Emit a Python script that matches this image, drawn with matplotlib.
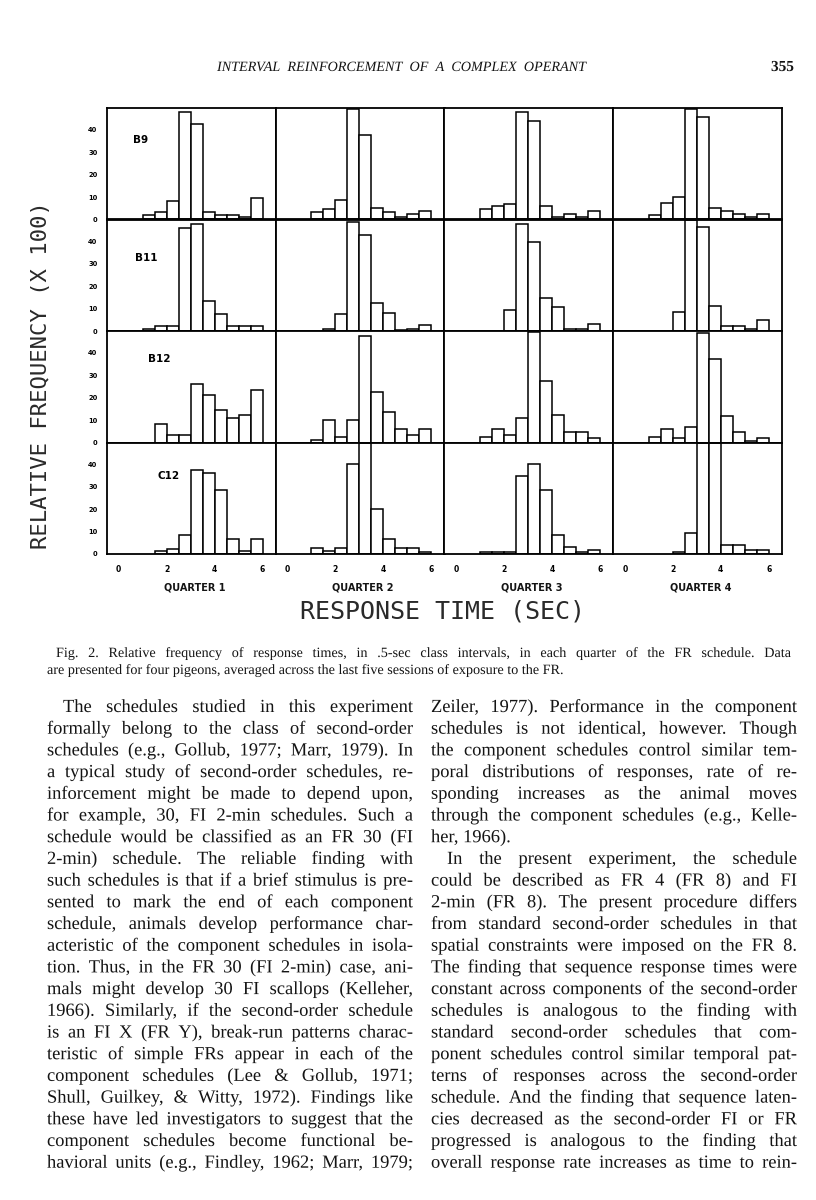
import matplotlib
matplotlib.use('Agg')
import matplotlib.pyplot as plt
import matplotlib.patheffects as pe
from matplotlib.font_manager import FontProperties
from matplotlib.textpath import TextToPath

W, H = 816, 1200

# ---- figure data ----
birds = ['B9', 'B11', 'B12', 'C12']
quarters = ['QUARTER 1', 'QUARTER 2', 'QUARTER 3', 'QUARTER 4']
bin_left = [0.0, 0.5, 1.0, 1.5, 2.0, 2.5, 3.0, 3.5, 4.0, 4.5, 5.0, 5.5]  # .5-sec class intervals
x_ticks = [0, 2, 4, 6]
y_ticks = [0, 10, 20, 30, 40]

# relative frequency (x 100), one list per quarter
b9 = [
    [0, 0, 2.0, 3.2, 8.3, 47.9, 42.7, 3.3, 1.8, 1.8, 0.9, 9.7],
    [0, 0, 3.3, 4.8, 8.5, 49.2, 37.9, 5.0, 3.3, 1.2, 2.3, 3.6],
    [0, 0, 4.7, 5.9, 7.1, 48.0, 44.2, 6.1, 1.2, 2.3, 1.1, 3.6],
    [0, 0, 2.1, 7.3, 10.0, 49.5, 45.9, 5.0, 3.6, 2.3, 1.2, 2.4],
]
b11 = [
    [0, 0, 0.9, 2.3, 2.3, 46.0, 47.6, 13.6, 7.6, 2.3, 2.3, 2.3],
    [0, 0, 0, 1.0, 7.6, 48.6, 43.0, 12.5, 7.9, 0.4, 1.0, 2.5],
    [0, 0, 0, 0, 9.5, 47.6, 39.7, 14.7, 10.9, 1.0, 1.0, 3.3],
    [0, 0, 0, 0, 8.3, 49.4, 46.4, 11.3, 2.3, 2.3, 0.8, 4.8],
]
b12 = [
    [0, 0, 0, 8.4, 3.5, 3.5, 26.0, 21.0, 14.7, 11.0, 12.2, 23.4],
    [0, 0, 0.9, 9.9, 2.4, 9.9, 47.4, 22.5, 13.5, 6.0, 3.3, 6.2],
    [0, 0, 2.3, 6.0, 3.3, 10.8, 49.5, 27.3, 12.3, 4.5, 4.5, 2.1],
    [0, 0, 2.3, 6.0, 2.1, 7.0, 48.8, 37.4, 12.0, 4.5, 0.8, 2.1],
]
c12 = [
    [0, 0, 0, 1.2, 2.3, 8.7, 37.5, 36.1, 28.6, 6.5, 1.5, 6.5],
    [0, 0, 2.6, 1.5, 2.6, 40.2, 49.5, 20.0, 6.5, 2.6, 2.6, 0.9],
    [0, 0, 0.9, 0.9, 0.9, 35.0, 40.0, 28.5, 8.3, 3.2, 0.9, 2.0],
    [0, 0, 0, 0, 0.8, 9.5, 49.5, 49.5, 4.2, 4.2, 1.7, 1.7],
]
freq = {'B9': b9, 'B11': b11, 'B12': b12, 'C12': c12}
# where the bird name sits inside the first panel (data coords)
name_pos = {'B9': (0.9, 35.7), 'B11': (1.17, 32.8), 'B12': (1.7, 37.2), 'C12': (2.08, 35.0)}

header = 'INTERVAL REINFORCEMENT OF A COMPLEX OPERANT'
page_no = '355'
caption = [
    'Fig. 2. Relative frequency of response times, in .5-sec class intervals, in each quarter of the FR schedule. Data',
    'are presented for four pigeons, averaged across the last five sessions of exposure to the FR.',
]
left_col = [
    'The schedules studied in this experiment',
    'formally belong to the class of second-order',
    'schedules (e.g., Gollub, 1977; Marr, 1979). In',
    'a typical study of second-order schedules, re-',
    'inforcement might be made to depend upon,',
    'for example, 30, FI 2-min schedules. Such a',
    'schedule would be classified as an FR 30 (FI',
    '2-min) schedule. The reliable finding with',
    'such schedules is that if a brief stimulus is pre-',
    'sented to mark the end of each component',
    'schedule, animals develop performance char-',
    'acteristic of the component schedules in isola-',
    'tion. Thus, in the FR 30 (FI 2-min) case, ani-',
    'mals might develop 30 FI scallops (Kelleher,',
    '1966). Similarly, if the second-order schedule',
    'is an FI X (FR Y), break-run patterns charac-',
    'teristic of simple FRs appear in each of the',
    'component schedules (Lee & Gollub, 1971;',
    'Shull, Guilkey, & Witty, 1972). Findings like',
    'these have led investigators to suggest that the',
    'component schedules become functional be-',
    'havioral units (e.g., Findley, 1962; Marr, 1979;',
]
right_col = [
    'Zeiler, 1977). Performance in the component',
    'schedules is not identical, however. Though',
    'the component schedules control similar tem-',
    'poral distributions of responses, rate of re-',
    'sponding increases as the animal moves',
    'through the component schedules (e.g., Kelle-',
    'her, 1966).',
    'In the present experiment, the schedule',
    'could be described as FR 4 (FR 8) and FI',
    '2-min (FR 8). The present procedure differs',
    'from standard second-order schedules in that',
    'spatial constraints were imposed on the FR 8.',
    'The finding that sequence response times were',
    'constant across components of the second-order',
    'schedules is analogous to the finding with',
    'standard second-order schedules that com-',
    'ponent schedules control similar temporal pat-',
    'terns of responses across the second-order',
    'schedule. And the finding that sequence laten-',
    'cies decreased as the second-order FI or FR',
    'progressed is analogous to the finding that',
    'overall response rate increases as time to rein-',
]

DPI = 100
fig = plt.figure(figsize=(W / DPI, H / DPI), dpi=DPI)
fig.patch.set_facecolor('white')
ink = '#141414'
as_path = [pe.Normal()]  # drawn as paths -> no per-word pixel snapping of the baseline
t2p = TextToPath()


def fx(px):
    return px / W


def fy(py):
    return 1 - py / H


def word_width(s, prop):
    # width of the outline text in pixels (same metrics the path drawing uses)
    w, _, _ = t2p.get_text_width_height_descent(s, prop, ismath=False)
    return w * DPI / 72


def put_word(s, x, y_base, prop):
    return fig.text(fx(x), fy(y_base), s, fontproperties=prop, va='baseline',
                    color=ink, path_effects=as_path)


def text_line(s, x0, x1, y, prop, justify=True):
    words = s.split()
    if not justify or len(words) < 2:
        put_word(s, x0, y, prop)
        return
    widths = [word_width(w, prop) for w in words]
    gap = (x1 - x0 - sum(widths)) / (len(words) - 1)
    x = x0
    for w, wd in zip(words, widths):
        put_word(w, x, y, prop)
        x += wd + gap


# ---- the 4 x 4 grid of histograms ----
gx0, gy0 = 107, 108
cw, rh = 168.75, 111.5
tick_font = dict(family='DejaVu Sans', weight='bold')

for r, bird in enumerate(birds):
    for c in range(4):
        ax = fig.add_axes([fx(gx0 + c * cw), fy(gy0 + (r + 1) * rh), cw / W, rh / H])
        vals = freq[bird][c]
        xs = [b for b, v in zip(bin_left, vals) if v > 0]
        hs = [v for v in vals if v > 0]
        ax.bar(xs, hs, width=0.5, align='edge', facecolor='white',
               edgecolor='black', linewidth=1.1)
        ax.set_xlim(-0.48, 6.55)
        ax.set_ylim(0, 49.8)
        for sp in ax.spines.values():
            sp.set_linewidth(1.3)
        ax.tick_params(length=0)
        ax.set_xticks(x_ticks)
        ax.set_yticks(y_ticks)
        if c == 0:
            ax.set_yticklabels([str(t) for t in y_ticks], fontsize=4.8, **tick_font)
            ax.tick_params(axis='y', pad=7)
            nx, ny = name_pos[bird]
            ax.text(nx, ny, bird, fontsize=7.5, ha='center', va='center', **tick_font)
        else:
            ax.set_yticklabels([])
        if r == len(birds) - 1:
            ax.set_xticklabels([str(t) for t in x_ticks], fontsize=5.5, **tick_font)
            ax.tick_params(axis='x', pad=8)
        else:
            ax.set_xticklabels([])

for c, q in enumerate(quarters):
    fig.text(fx(gx0 + (c + 0.5) * cw + 3), fy(588), q, fontsize=7, ha='center',
             va='center', color=ink, **tick_font)

fig.text(fx(443), fy(612), 'RESPONSE TIME (SEC)', fontsize=18, ha='center',
         va='center', family='DejaVu Sans Mono', color='#2a2a2a')
fig.text(fx(41), fy(375), 'RELATIVE FREQUENCY (X 100)', fontsize=16, ha='center',
         va='center', rotation=90, family='DejaVu Sans Mono', color='#2a2a2a')

# ---- page text ----
serif = 'Liberation Serif'
head_prop = FontProperties(family=serif, style='italic', size=10.2)
num_prop = FontProperties(family=serif, weight='bold', size=11)
cap_prop = FontProperties(family=serif, size=10.2)
body_prop = FontProperties(family=serif, size=13.3)

text_line(header, 217, 586, 71, head_prop)
put_word(page_no, 771, 71, num_prop)

text_line(caption[0], 56, 791, 657, cap_prop)
text_line(caption[1], 47, 562, 674, cap_prop, justify=False)

line_h = 21.7
for i, s in enumerate(left_col):
    x0 = 63 if i == 0 else 47
    text_line(s, x0, 413, 712 + i * line_h, body_prop)
for i, s in enumerate(right_col):
    x0 = 447 if i == 7 else 431
    text_line(s, x0, 797, 712 + i * line_h, body_prop, justify=(i != 6))

fig.savefig('out.png', dpi=DPI, facecolor='white')
